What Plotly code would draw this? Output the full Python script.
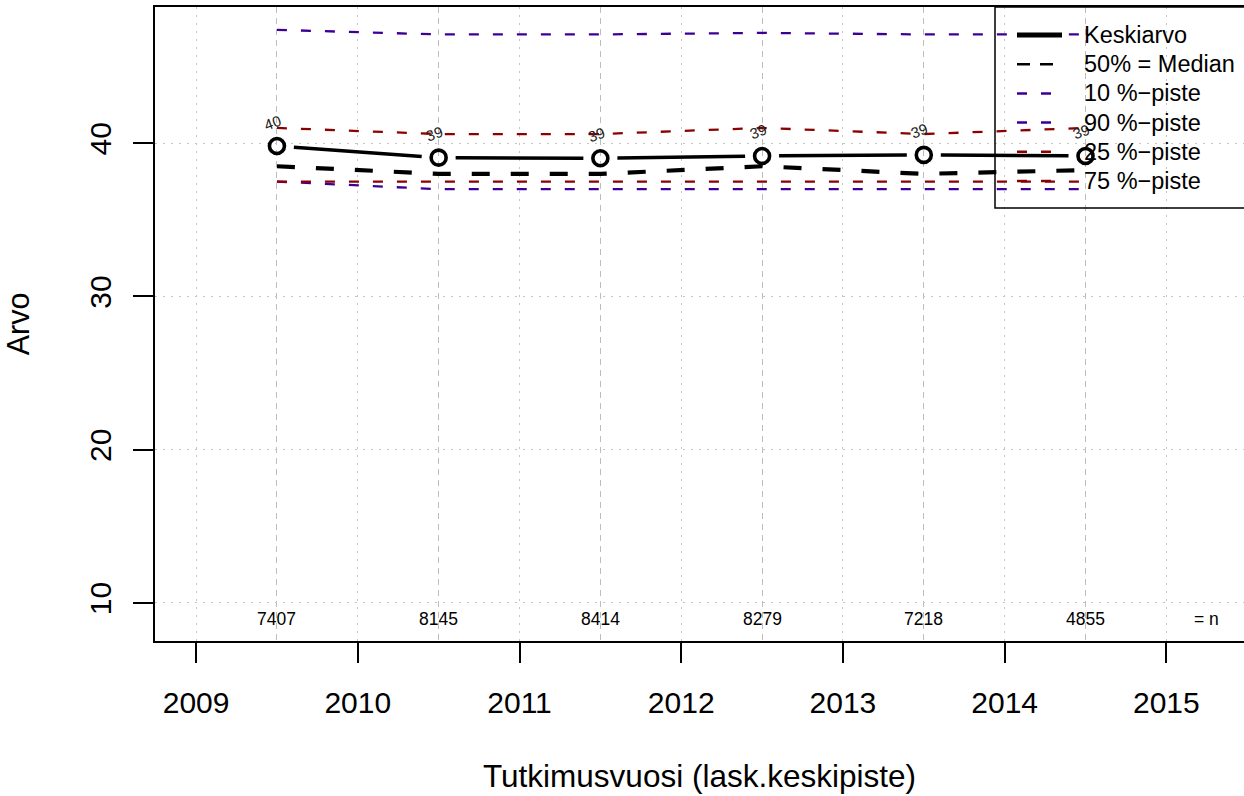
import plotly.graph_objects as go

# vuosittaiset tunnusluvut (lask. keskipiste)
vuodet = [2009.5, 2010.5, 2011.5, 2012.5, 2013.5, 2014.5]
keskiarvo = [39.82, 39.06, 39.02, 39.17, 39.24, 39.17]
mediaani = [38.5, 38.0, 38.0, 38.5, 38.0, 38.25]
p10 = [37.5, 37.0, 37.0, 37.0, 37.0, 37.0]
p90 = [47.4, 47.1, 47.1, 47.2, 47.1, 47.1]
p25 = [37.5, 37.5, 37.5, 37.5, 37.5, 37.5]
p75 = [41.0, 40.6, 40.6, 41.0, 40.6, 41.0]
n = [7407, 8145, 8414, 8279, 7218, 4855]
ka_tekstit = [str(round(v)) for v in keskiarvo]
x_ticks = [2009, 2010, 2011, 2012, 2013, 2014, 2015]
y_ticks = [10, 20, 30, 40]

W, H = 1244, 796
L, R, T, B = 155, 0, 7, 155
x_range = [2008.746, 2015.48]
y_range = [7.52, 48.89]

PURPLE = "#3d0096"
DARKRED = "#8b0000"
FONT = "Liberation Sans, Arial, sans-serif"
dash_p = "10px,14px"

# R:n type="b" -tyylinen viiva: katkos pisteiden ympärillä
px_x = (W - L - R) / (x_range[1] - x_range[0])
px_y = (H - T - B) / (y_range[1] - y_range[0])
gap = 17
seg_x, seg_y = [], []
for i in range(len(vuodet) - 1):
    dx = (vuodet[i + 1] - vuodet[i]) * px_x
    dy = (keskiarvo[i + 1] - keskiarvo[i]) * px_y
    d = (dx ** 2 + dy ** 2) ** 0.5
    fx, fy = gap * dx / d / px_x, gap * dy / d / px_y
    seg_x += [vuodet[i] + fx, vuodet[i + 1] - fx, None]
    seg_y += [keskiarvo[i] + fy, keskiarvo[i + 1] - fy, None]

fig = go.Figure()

fig.add_trace(go.Scatter(x=vuodet, y=p10, mode="lines",
                         line=dict(color=PURPLE, width=2.3, dash=dash_p)))
fig.add_trace(go.Scatter(x=vuodet, y=p90, mode="lines",
                         line=dict(color=PURPLE, width=2.3, dash=dash_p)))
fig.add_trace(go.Scatter(x=vuodet, y=p25, mode="lines",
                         line=dict(color=DARKRED, width=2.3, dash=dash_p)))
fig.add_trace(go.Scatter(x=vuodet, y=p75, mode="lines",
                         line=dict(color=DARKRED, width=2.3, dash=dash_p)))
fig.add_trace(go.Scatter(x=vuodet, y=mediaani, mode="lines",
                         line=dict(color="black", width=4.2, dash="18px,21px")))
fig.add_trace(go.Scatter(x=seg_x, y=seg_y, mode="lines",
                         line=dict(color="black", width=3.5)))
fig.add_trace(go.Scatter(x=vuodet, y=keskiarvo, mode="markers",
                         marker=dict(symbol="circle-open", size=15, color="black",
                                     line=dict(width=3.6, color="black"))))

for xv, yv, t in zip(vuodet, keskiarvo, ka_tekstit):
    fig.add_annotation(x=xv, y=yv, text=t, showarrow=False, textangle=-20,
                       xshift=-4, yshift=24, font=dict(size=15, color="#222"))

for xv, nv in zip(vuodet, n):
    fig.add_annotation(x=xv, y=0.0347, yref="paper", yanchor="middle", text=str(nv),
                       showarrow=False, font=dict(size=17.5, color="black"))
fig.add_annotation(x=2015.25, y=0.0347, yref="paper", yanchor="middle", text="= n",
                   showarrow=False, font=dict(size=17.5, color="black"))


# selite kuten R:n legend(): laatikko, viivasymbolit ja tekstit
def px2x(p):
    return (p - L) / (W - L - R)


def px2y(p):
    return (H - B - p) / (H - T - B)


selite = [
    ("Keskiarvo", "black", 5, "solid"),
    ("50% = Median", "black", 2.5, "13px,10px"),
    ("10 %\u2212piste", PURPLE, 2.5, dash_p),
    ("90 %\u2212piste", PURPLE, 2.5, dash_p),
    ("25 %\u2212piste", DARKRED, 2.5, dash_p),
    ("75 %\u2212piste", DARKRED, 2.5, dash_p),
]
fig.add_shape(type="rect", xref="paper", yref="paper",
              x0=px2x(995), x1=px2x(1300), y0=px2y(208), y1=px2y(7),
              line=dict(color="black", width=1.5), fillcolor="rgba(0,0,0,0)")
for i, (nimi, vari, lw, dash) in enumerate(selite):
    rivi = 35 + i * 29.2
    fig.add_shape(type="line", xref="paper", yref="paper",
                  x0=px2x(1017), x1=px2x(1062), y0=px2y(rivi), y1=px2y(rivi),
                  line=dict(color=vari, width=lw, dash=dash))
    fig.add_annotation(xref="paper", yref="paper", x=px2x(1082), y=px2y(rivi),
                       text=nimi, showarrow=False, xanchor="left", yanchor="middle",
                       font=dict(size=23.5, color="black"))

fig.update_layout(
    width=W, height=H,
    margin=dict(l=L, r=R, t=T, b=B, autoexpand=False),
    plot_bgcolor="white", paper_bgcolor="white",
    font=dict(family=FONT, color="black"),
    showlegend=False,
)

fig.update_xaxes(
    range=x_range, tickmode="array", tickvals=x_ticks, ticktext=[str(v) for v in x_ticks],
    ticks="outside", ticklen=20, tickwidth=1.5, tickcolor="black",
    showline=True, linecolor="black", linewidth=2, mirror=True, zeroline=False,
    showgrid=True, gridcolor="#c4c4c4", gridwidth=1.2, griddash="2px,6px",
    minor=dict(tickmode="array", tickvals=vuodet, showgrid=True, gridcolor="#bdbdbd",
               gridwidth=1.2, griddash="6px,5px"),
    tickfont=dict(size=30), ticklabelstandoff=14,
    title=dict(text="Tutkimusvuosi (lask.keskipiste)", font=dict(size=31.5), standoff=47),
)
fig.update_yaxes(
    range=y_range, tickmode="array", tickvals=y_ticks, tickangle=-90,
    ticks="outside", ticklen=20, tickwidth=1.5, tickcolor="black",
    showline=True, linecolor="black", linewidth=2, zeroline=False,
    showgrid=True, gridcolor="#c4c4c4", gridwidth=1.2, griddash="2px,6px",
    tickfont=dict(size=30), ticklabelstandoff=10,
    title=dict(text="Arvo", font=dict(size=30.5), standoff=45),
)

# sivun oletusreunus pois, jotta kuva alkaa ikkunan vasemmasta yläkulmasta
fig.write_html("out.html", config={"displayModeBar": False},
               post_script="document.body.style.margin='0';")
